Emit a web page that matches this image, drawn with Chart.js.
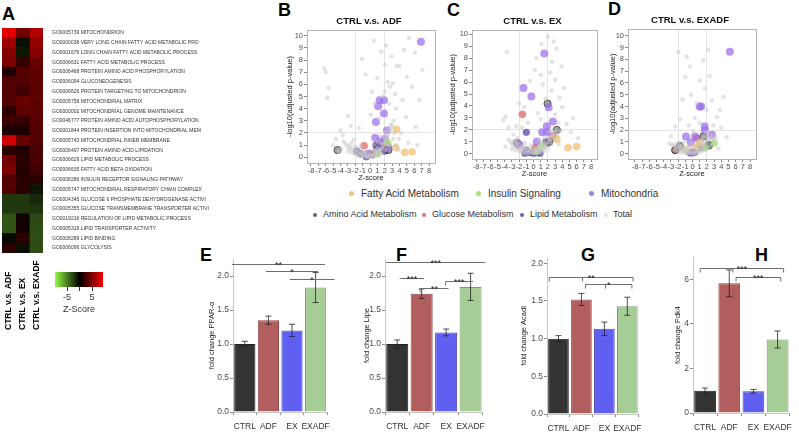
<!DOCTYPE html>
<html>
<head>
<meta charset="utf-8">
<script src="https://cdn.jsdelivr.net/npm/chart.js@4.4.0/dist/chart.umd.min.js"></script>
<style>
body{margin:0;background:#fff;width:799px;height:434px;position:relative;overflow:hidden;font-family:"Liberation Sans",Arial,sans-serif;}
canvas{position:absolute;}
.lab{position:absolute;font-weight:bold;font-size:18px;color:#000;line-height:1;}
.leg{position:absolute;color:#333;white-space:nowrap;line-height:1;}
.dot{position:absolute;border-radius:50%;}
</style>
</head>
<body>
<div class="lab" style="left:2px;top:5px">A</div>
<div class="lab" style="left:278px;top:1px">B</div>
<div class="lab" style="left:447px;top:1px">C</div>
<div class="lab" style="left:608px;top:0px">D</div>
<div class="lab" style="left:200px;top:246px">E</div>
<div class="lab" style="left:396px;top:246px">F</div>
<div class="lab" style="left:581px;top:246px">G</div>
<div class="lab" style="left:755px;top:246px">H</div>

<div class="dot" style="left:349px;top:191px;width:5px;height:5px;background:#f2c27a"></div>
<div class="leg" style="left:361px;top:189px;font-size:10px">Fatty Acid Metabolism</div>
<div class="dot" style="left:476px;top:191px;width:5px;height:5px;background:#a8e27c"></div>
<div class="leg" style="left:488px;top:189px;font-size:10px">Insulin Signaling</div>
<div class="dot" style="left:589px;top:191px;width:5px;height:5px;background:#a07ee6"></div>
<div class="leg" style="left:601px;top:189px;font-size:10px">Mitochondria</div>
<div class="dot" style="left:313px;top:213px;width:4px;height:4px;background:#666"></div>
<div class="leg" style="left:323px;top:210px;font-size:9px">Amino Acid Metabolism</div>
<div class="dot" style="left:422px;top:213px;width:4px;height:4px;background:#e57373"></div>
<div class="leg" style="left:432px;top:210px;font-size:9px">Glucose Metabolism</div>
<div class="dot" style="left:520px;top:213px;width:4px;height:4px;background:#6a5acd"></div>
<div class="leg" style="left:530px;top:210px;font-size:9px">Lipid Metabolism</div>
<div class="dot" style="left:604px;top:213px;width:4px;height:4px;background:#e3e3e3"></div>
<div class="leg" style="left:613px;top:210px;font-size:9px">Total</div>

<script>
// ---------- A: GO term heatmap
const goTerms = [
  "GO0005739 MITOCHONDRION",
  "GO0000038 VERY LONG CHAIN FATTY ACID METABOLIC PRO",
  "GO0001676 LONG CHAIN FATTY ACID METABOLIC PROCESS",
  "GO0006631 FATTY ACID METABOLIC PROCESS",
  "GO0006468 PROTEIN AMINO ACID PHOSPHORYLATION",
  "GO0006094 GLUCONEOGENESIS",
  "GO0006626 PROTEIN TARGETING TO MITOCHONDRION",
  "GO0005759 MITOCHONDRIAL MATRIX",
  "GO0000002 MITOCHONDRIAL GENOME MAINTENANCE",
  "GO0046777 PROTEIN AMINO ACID AUTOPHOSPHORYLATION",
  "GO0001844 PROTEIN INSERTION INTO MITOCHONDRIAL MEM",
  "GO0005743 MITOCHONDRIAL INNER MEMBRANE",
  "GO0006497 PROTEIN AMINO ACID LIPIDATION",
  "GO0006629 LIPID METABOLIC PROCESS",
  "GO0006635 FATTY ACID BETA OXIDATION",
  "GO0008286 INSULIN RECEPTOR SIGNALING PATHWAY",
  "GO0005747 MITOCHONDRIAL RESPIRATORY CHAIN COMPLEX",
  "GO0004345 GLUCOSE 6 PHOSPHATE DEHYDROGENASE ACTIVI",
  "GO0005355 GLUCOSE TRANSMEMBRANE TRANSPORTER ACTIVI",
  "GO0019216 REGULATION OF LIPID METABOLIC PROCESS",
  "GO0005319 LIPID TRANSPORTER ACTIVITY",
  "GO0008289 LIPID BINDING",
  "GO0006096 GLYCOLYSIS"
];
const contrasts = ["CTRL v.s. ADF", "CTRL v.s. EX", "CTRL v.s. EXADF"];
const zADF = [8.8, 6, 5.2, 4.8, 1.2, 3.2, 3.2, 3.2, 1.6, 2.4, 1, 8, 1.6, 4.4, 4.8, 3.2, 3.2, -2.2, -2.2, -3.3, -3.3, -0.4, 1.6];
const zEX = [4.4, -0.6, -0.9, 2, 3.2, 3.2, 2.4, 4, 3.6, 2, 1.2, 4, 1.2, 1.6, 1.4, 1.6, 1.6, -2.2, -2.2, 0.6, 0.6, 1.6, -0.6];
const zEXADF = [6.8, 5.6, 5.2, 4, 3.6, 3.6, 3.6, 3.6, 3.6, 3.4, 3.2, 3.2, 2.8, 2.8, 2.4, 1.6, -0.8, -1.6, -2, -2.8, -3, -3, -3];
const zRange = [-9.8, 9.4];
const zTicks = [-5, 0, 5];

// ---------- B-D: volcano plots, points as [z-score, -log10 p]
const zScoreTicks = [-8, -7, -6, -5, -4, -3, -2, -1, 0, 1, 2, 3, 4, 5, 6, 7, 8];
const pTicks = [0, 1, 2, 3, 4, 5, 6, 7, 8, 9, 10];

const fattyB = [[3.6, 2.3], [3.5, 0.8], [4.7, 0.4], [5.7, 0.45]];
const insulinB = [[2.4, 1.2], [1.0, 0.3]];
const mitoB = [[6.9, 9.5], [1.1, 4.2], [1.3, 4.7], [1.9, 4.7], [1.9, 3.6], [0.8, 2.9], [2.3, 2.2], [0.7, 1.6], [1.3, 1.3], [-0.3, 0.3], [0.9, 0.5], [2.5, 0.8], [2.0, 1.5]];
const aminoB = [[-4.4, 0.6], [1.0, 1.0], [2.5, 0.6]];
const glucoseB = [[-0.8, 0.95], [0.0, 0.3], [2.2, 1.0]];
const lipidB = [[0.8, 1.0], [1.5, 1.1], [-1.3, 0.3], [0.3, 0.2], [-0.5, 0.05], [2.0, 0.5], [-1.8, 0.5], [1.2, 0.9]];
const totalB = [[-6.2, 7.3], [-6.0, 7.0], [-5.6, 5.7], [-5.8, 4.9], [-1.1, 8.1], [0.5, 9.6], [2.2, 9.2], [2.0, 7.6], [2.4, 6.2], [2.0, 5.4], [2.7, 5.8], [3.6, 7.5], [2.9, 8.3], [4.0, 7.5], [5.3, 9.8], [5.7, 5.8], [4.4, 4.7], [3.5, 4.0], [4.9, 3.3], [6.2, 2.5], [6.7, 4.7], [7.1, 7.2], [1.0, 6.5], [0.3, 5.4], [-0.6, 6.8], [1.5, 8.7], [3.1, 6.1], [2.6, 4.4], [3.2, 3.0], [-3.0, 3.4], [-2.6, 2.6], [-4.0, 2.2], [-3.7, 1.8], [-1.5, 2.4], [0.1, 3.5], [1.2, 3.2], [2.8, 2.7], [4.2, 2.0], [3.9, 1.5], [5.2, 1.2], [-5.0, 1.0], [-4.6, 1.5], [6.4, 1.0], [5.0, 6.6], [6.1, 8.6], [4.6, 8.8], [1.7, 5.0], [0.6, 4.4], [3.4, 5.2],
  [-3.6, 1.3], [-3.3, 1.1], [-3.1, 0.9], [-2.8, 0.95], [-2.7, 0.7], [-2.4, 0.75], [-2.2, 0.55], [-2.0, 0.6], [-1.8, 0.4], [-1.6, 0.45], [-1.4, 0.3], [-1.2, 0.35], [-1.0, 0.2], [-0.8, 0.25], [-0.6, 0.1], [-0.4, 0.15], [-0.2, 0.05], [0.0, 0.08], [0.2, 0.1], [0.4, 0.2], [0.6, 0.25], [0.8, 0.35], [1.0, 0.45], [1.2, 0.5], [1.4, 0.7], [1.6, 0.8], [1.8, 1.05], [2.0, 1.2], [2.2, 1.45], [2.4, 1.7], [2.6, 2.05], [2.8, 2.3], [3.0, 2.6],
  [-3.0, 0.5], [-2.5, 0.4], [-2.1, 0.25], [-1.6, 0.15], [-1.1, 0.08], [-0.5, 0.02], [0.5, 0.04], [1.1, 0.12], [1.5, 0.3], [2.1, 0.6], [2.5, 1.0], [3.1, 1.5],
  [-2.5, 1.15], [-2.0, 0.9], [-1.5, 0.7], [-1.0, 0.55], [-0.5, 0.4], [0.0, 0.35], [0.5, 0.55], [1.0, 0.8], [1.5, 1.15], [2.0, 1.6], [2.5, 2.4], [1.0, 1.3], [1.5, 1.7], [2.1, 2.1], [0.5, 1.05], [-1.2, 1.0], [-2.2, 1.45], [3.3, 2.0], [3.5, 1.0], [-3.9, 0.7], [-4.2, 0.45], [3.8, 0.6]];

const fattyC = [[3.25, 1.2], [4.8, 0.5], [6.0, 0.6]];
const insulinC = [[1.2, 0.65], [0.5, 0.2]];
const mitoC = [[1.5, 8.4], [-1.4, 5.5], [-0.3, 4.8], [2.1, 3.9], [2.7, 2.7], [1.85, 2.3], [1.2, 1.8], [1.85, 1.8], [0.45, 1.0], [-2.0, 0.8]];
const aminoC = [[1.95, 4.2], [3.25, 2.0], [-2.3, 0.9], [2.2, 1.0]];
const glucoseC = [[-1.55, 3.3], [2.7, 1.5], [0.2, 0.5], [-2.0, 0.7]];
const lipidC = [[-1.0, 1.8], [1.7, 1.0], [2.0, 0.9], [0.0, 0.05], [-0.5, 0.1], [0.5, 0.1], [-1.0, 0.3], [0.9, 0.05], [-1.2, 0.05]];
const totalC = [[-3.7, 8.5], [-3.9, 3.1], [-4.2, 2.8], [-3.5, 2.2], [-2.8, 1.6], [2.0, 9.8], [1.1, 9.2], [3.2, 8.8], [2.6, 7.7], [3.9, 7.3], [2.3, 6.8], [3.0, 6.2], [1.0, 6.6], [4.2, 5.5], [2.5, 5.3], [3.6, 4.7], [1.3, 5.8], [0.2, 7.0], [-0.5, 6.1], [-2.0, 4.2], [-1.3, 3.9], [0.6, 3.4], [3.0, 3.3], [4.0, 3.9], [4.6, 2.5], [5.2, 1.8], [3.8, 1.9], [-0.8, 2.6], [-2.4, 2.3], [1.0, 2.9], [6.2, 1.3], [5.5, 3.0], [0.4, 8.0], [2.8, 9.4], [1.7, 4.6], [-1.6, 2.2], [3.4, 2.6],
  [-3.5, 1.2], [-3.2, 1.0], [-3.0, 0.8], [-2.8, 1.1], [-2.6, 0.6], [-2.4, 0.8], [-2.2, 0.45], [-2.0, 0.55], [-1.8, 0.35], [-1.6, 0.5], [-1.4, 0.25], [-1.2, 0.4], [-1.0, 0.15], [-0.8, 0.3], [-0.6, 0.08], [-0.4, 0.2], [-0.2, 0.04], [0.0, 0.1], [0.2, 0.06], [0.4, 0.18], [0.6, 0.2], [0.8, 0.3], [1.0, 0.35], [1.2, 0.45], [1.4, 0.55], [1.6, 0.7], [1.8, 0.8], [2.0, 0.95], [2.2, 1.1], [2.4, 1.3], [2.6, 1.5], [2.8, 1.7], [3.0, 1.9],
  [-3.0, 0.4], [-2.5, 0.3], [-2.0, 0.2], [-1.5, 0.1], [-1.0, 0.05], [0.5, 0.04], [1.0, 0.1], [1.5, 0.25], [2.0, 0.5], [2.5, 0.8], [3.0, 1.2],
  [-2.5, 1.0], [-2.0, 0.85], [-1.5, 0.65], [-1.0, 0.5], [-0.5, 0.35], [0.0, 0.3], [0.5, 0.45], [1.0, 0.7], [1.5, 1.0], [2.0, 1.3], [2.5, 1.9], [-1.2, 0.9], [-2.2, 1.3], [3.3, 1.6], [3.5, 0.8], [-3.9, 0.6], [0.8, 1.2], [1.6, 1.4], [-0.4, 0.7]];

const fattyD = [[1.0, 0.9], [-0.8, 0.3], [0.5, 0.6]];
const insulinD = [[3.0, 0.9], [1.8, 0.5]];
const mitoD = [[5.2, 8.65], [1.2, 4.0], [1.0, 4.0], [1.7, 2.3], [1.7, 2.0], [-0.9, 1.45], [0.35, 1.45], [2.7, 1.6], [-0.25, 0.95], [0.0, 0.1]];
const aminoD = [[1.5, 1.45], [-1.75, 0.65], [-2.4, 0.3], [2.3, 0.7]];
const glucoseD = [[0.6, 1.3], [-2.4, 0.3]];
const lipidD = [[0.0, 0.1], [0.3, 0.1], [2.2, 0.8], [1.2, 0.5], [-0.3, 0.05]];
const totalD = [[-2.0, 8.6], [-0.8, 8.2], [-0.35, 7.4], [-1.0, 6.5], [1.5, 7.9], [2.2, 8.8], [1.0, 6.2], [1.7, 5.5], [2.7, 4.5], [4.3, 4.8], [3.8, 3.7], [2.0, 3.7], [3.4, 3.1], [-1.7, 2.9], [-2.4, 2.3], [1.0, 2.6], [0.1, 1.9], [4.75, 1.4], [3.6, 0.45], [-0.2, 5.0], [0.6, 4.3], [2.4, 6.6], [-1.4, 4.6], [0.3, 3.0], [-3.0, 1.5], [2.9, 2.4], [4.0, 2.2], [-0.5, 2.4], [1.9, 1.8],
  [-3.2, 0.9], [-2.9, 0.7], [-2.6, 0.8], [-2.4, 0.55], [-2.2, 0.6], [-2.0, 0.4], [-1.8, 0.5], [-1.6, 0.3], [-1.4, 0.4], [-1.2, 0.2], [-1.0, 0.3], [-0.8, 0.12], [-0.6, 0.2], [-0.4, 0.06], [-0.2, 0.1], [0.0, 0.04], [0.2, 0.08], [0.4, 0.15], [0.6, 0.2], [0.8, 0.3], [1.0, 0.35], [1.2, 0.45], [1.4, 0.6], [1.6, 0.7], [1.8, 0.85], [2.0, 1.0], [2.2, 1.15], [2.4, 1.3], [2.6, 1.5], [2.8, 1.2], [3.0, 1.0],
  [-2.5, 0.3], [-2.0, 0.15], [-1.5, 0.1], [-1.0, 0.05], [0.5, 0.05], [1.0, 0.1], [1.5, 0.25], [2.0, 0.5], [2.5, 0.7],
  [-2.0, 0.9], [-1.5, 0.7], [-1.0, 0.6], [-0.5, 0.5], [0.0, 0.4], [0.5, 0.6], [1.0, 0.8], [1.5, 1.1], [2.0, 1.4], [1.2, 1.2], [0.8, 1.0], [-1.2, 1.0], [3.2, 1.4], [-0.2, 0.8]];

// ---------- E-H: qPCR fold change
const groups = ["CTRL", "ADF", "EX", "EXADF"];
const ppar = [1.0, 1.35, 1.2, 1.83];
const pparErr = [0.04, 0.06, 0.09, 0.22];
const lipe = [1.0, 1.74, 1.17, 1.84];
const lipeErr = [0.06, 0.07, 0.05, 0.2];
const acadl = [1.0, 1.52, 1.13, 1.43];
const acadlErr = [0.04, 0.08, 0.09, 0.12];
const pdk4 = [1.0, 5.82, 0.98, 3.3];
const pdk4Err = [0.12, 0.6, 0.08, 0.38];
const foldTicks = [0, 0.5, 1, 1.5, 2];
const pdk4Ticks = [0, 2, 4, 6];

// significance bars: x1/x2 in group units, y in fold change
const pparSig = [{x1: -0.55, x2: 3.4, y: 2.18, label: "**", ticks: []}, {x1: 0.9, x2: 3.1, y: 2.08, label: "*", ticks: []}, {x1: 1.9, x2: 3.8, y: 1.95, label: "*", ticks: []}];
const lipeSig = [{x1: -0.45, x2: 3.6, y: 2.2, label: "***", ticks: []}, {x1: 0.1, x2: 1.1, y: 1.975, label: "***", ticks: []}, {x1: 0.94, x2: 2.1, y: 1.82, label: "**", ticks: [0.94]}, {x1: 1.98, x2: 3.1, y: 1.93, label: "***", ticks: [1.98]}];
const acadlSig = [{x1: -0.4, x2: 3.25, y: 1.82, label: "**", ticks: [-0.4, 1.05, 3.25]}, {x1: 1.18, x2: 3.2, y: 1.72, label: "*", ticks: [1.18, 2.05, 3.2]}];
const pdk4Sig = [{x1: -0.2, x2: 3.25, y: 6.49, label: "***", ticks: [-0.2, 1.15, 3.25]}, {x1: 1.28, x2: 3.13, y: 6.11, label: "***", ticks: [1.28, 3.13]}];

Chart.defaults.font.family = '"Liberation Sans", Arial, sans-serif';
Chart.defaults.color = "#4d4d4d";
Chart.defaults.animation = false;

function addCanvas(left, top, w, h) {
  const c = document.createElement("canvas");
  c.width = w; c.height = h;
  c.style.left = left + "px"; c.style.top = top + "px";
  c.style.width = w + "px"; c.style.height = h + "px";
  document.body.appendChild(c);
  return c.getContext("2d");
}

function zColor(z) {
  if (z >= 0) return "rgb(" + Math.min(255, Math.round(z * 26)) + ",0,0)";
  const t = Math.min(1, -z / 10);
  return "rgb(" + Math.round(150 * t) + "," + Math.round(255 * t) + "," + Math.round(70 * t) + ")";
}

// heatmap
const colLabels = {
  id: "colLabels",
  afterDraw(chart) {
    const ctx = chart.ctx, x = chart.scales.x, area = chart.chartArea;
    ctx.save();
    ctx.font = 'bold 8.5px "Liberation Sans"';
    ctx.fillStyle = "#000";
    ctx.textAlign = "left";
    ctx.textBaseline = "middle";
    contrasts.forEach((c, i) => {
      ctx.save();
      ctx.translate(x.getPixelForValue(i + 0.5), area.bottom + 77);
      ctx.rotate(-Math.PI / 2);
      ctx.fillText(c, 0, 0);
      ctx.restore();
    });
    ctx.restore();
  }
};

new Chart(addCanvas(0, 20, 235, 320), {
  type: "bar",
  data: {
    labels: goTerms,
    datasets: [zADF, zEX, zEXADF].map((z, i) => ({
      label: contrasts[i],
      data: goTerms.map(() => 1),
      backgroundColor: z.map(zColor),
      borderWidth: 0,
      barPercentage: 1,
      categoryPercentage: 1
    }))
  },
  options: {
    indexAxis: "y",
    responsive: false,
    layout: {padding: {top: 8, left: 2, bottom: 87}},
    plugins: {legend: {display: false}, tooltip: {enabled: false}},
    scales: {
      x: {stacked: true, min: 0, max: 3, display: false},
      y: {
        stacked: true,
        position: "right",
        grid: {display: false},
        border: {display: false},
        ticks: {font: {size: 5}, color: "#333", padding: 1, autoSkip: false},
        afterFit: s => { s.width = 192; }
      }
    }
  },
  plugins: [colLabels]
});

// colour key
new Chart(addCanvas(40, 262, 80, 62), {
  type: "bar",
  data: {
    labels: [""],
    datasets: [{
      data: [zRange],
      backgroundColor: ctx => {
        const a = ctx.chart.chartArea;
        if (!a) return "#000";
        const g = ctx.chart.ctx.createLinearGradient(a.left, 0, a.right, 0);
        g.addColorStop(0, zColor(zRange[0]));
        g.addColorStop(-zRange[0] / (zRange[1] - zRange[0]), "#000");
        g.addColorStop(1, zColor(zRange[1]));
        return g;
      },
      borderWidth: 0,
      barPercentage: 1,
      categoryPercentage: 1
    }]
  },
  options: {
    indexAxis: "y",
    responsive: false,
    layout: {padding: {left: 15, right: 17, top: 10, bottom: 9}},
    plugins: {legend: {display: false}, tooltip: {enabled: false}},
    scales: {
      x: {
        min: zRange[0], max: zRange[1],
        afterBuildTicks: s => { s.ticks = zTicks.map(v => ({value: v})); },
        ticks: {callback: v => (v === 0 ? "" : v), font: {size: 9}, color: "#333", padding: 1, maxRotation: 0},
        grid: {drawOnChartArea: false, tickLength: 4, color: "#333"},
        border: {display: false},
        title: {display: true, text: "Z-Score", font: {size: 9}, color: "#333", padding: 0},
        afterFit: s => { s.height = 28; }
      },
      y: {display: false}
    }
  }
});

// volcano plots: grey frame plus a title centred over the plotting area
function frame(title) {
  return {
    id: "frame",
    beforeDatasetsDraw(chart) {
      const a = chart.chartArea, ctx = chart.ctx;
      ctx.save();
      ctx.strokeStyle = "#b3b3b3";
      ctx.lineWidth = 1;
      ctx.strokeRect(Math.round(a.left) + 0.5, Math.round(a.top) + 0.5, Math.round(a.right - a.left), Math.round(a.bottom - a.top));
      ctx.fillStyle = "#111";
      ctx.font = 'bold 9.5px "Liberation Sans"';
      ctx.textAlign = "center";
      ctx.textBaseline = "middle";
      ctx.fillText(title, (a.left + a.right) / 2 - 2, a.top - 9);
      ctx.restore();
    }
  };
}

function volcano(ctx, title, sets, xr, yr, titlePad) {
  const styles = [
    {label: "Total", bg: "rgba(200,200,200,0.5)", r: 2.2, bc: "rgba(0,0,0,0)", bw: 0},
    {label: "Fatty Acid Metabolism", bg: "rgba(242,190,100,0.7)", r: 3.8, bc: "rgba(0,0,0,0)", bw: 0},
    {label: "Insulin Signaling", bg: "rgba(150,225,100,0.75)", r: 3.8, bc: "rgba(0,0,0,0)", bw: 0},
    {label: "Mitochondria", bg: "rgba(155,110,235,0.72)", r: 4, bc: "rgba(0,0,0,0)", bw: 0},
    {label: "Amino Acid Metabolism", bg: "rgba(90,90,90,0.55)", r: 3.6, bc: "rgba(20,20,20,0.8)", bw: 0.8},
    {label: "Glucose Metabolism", bg: "rgba(225,90,90,0.7)", r: 3.8, bc: "rgba(0,0,0,0)", bw: 0},
    {label: "Lipid Metabolism", bg: "rgba(60,40,160,0.65)", r: 3.6, bc: "rgba(0,0,0,0)", bw: 0}
  ];
  const gridAt = (vals) => c => (vals.includes(c.tick.value) ? "#e3e3e3" : "rgba(0,0,0,0)");
  const topPad = 25 - (yr === null ? 0 : 0);
  new Chart(ctx, {
    type: "scatter",
    data: {
      datasets: sets.map((d, i) => ({
        label: styles[i].label, data: d,
        backgroundColor: styles[i].bg, borderColor: styles[i].bc, borderWidth: styles[i].bw,
        pointRadius: styles[i].r
      }))
    },
    options: {
      responsive: false,
      layout: {padding: {right: 5, top: topPad}},
      plugins: {legend: {display: false}, tooltip: {enabled: false}},
      scales: {
        x: {
          type: "linear", min: xr[0], max: xr[1],
          afterBuildTicks: s => { s.ticks = zScoreTicks.map(v => ({value: v})); },
          ticks: {autoSkip: false, maxRotation: 0, font: {size: 7.5}, color: "#4d4d4d", padding: 0},
          grid: {color: gridAt([-2, 2]), tickColor: "#888", tickLength: 3},
          border: {display: false},
          title: {display: true, text: "Z-score", font: {size: 7.5}, color: "#222", padding: {top: 0, bottom: 8}},
          afterFit: s => { s.height = 27; }
        },
        y: {
          min: yr[0], max: yr[1],
          afterBuildTicks: s => { s.ticks = pTicks.map(v => ({value: v})); },
          ticks: {font: {size: 7.5}, color: "#4d4d4d", padding: 1},
          grid: {color: gridAt([2]), tickColor: "#888", tickLength: 3},
          border: {display: false},
          title: {display: true, text: "-log10(adjusted p-value)", font: {size: 7.5}, color: "#222", padding: {top: titlePad, bottom: 0}},
          afterFit: s => { s.width = 37; }
        }
      }
    },
    plugins: [frame(title)]
  });
}

volcano(addCanvas(270, 5, 170, 185), "CTRL v.s. ADF", [totalB, fattyB, insulinB, mitoB, aminoB, glucoseB, lipidB], [-8.54, 8.81], [-0.47, 10.47], 15);
volcano(addCanvas(435, 5, 167, 181), "CTRL v.s. EX", [totalC, fattyC, insulinC, mitoC, aminoC, glucoseC, lipidC], [-8.56, 8.83], [-0.44, 10.36], 13);
volcano(addCanvas(591, 4, 170, 182), "CTRL v.s. EXADF", [totalD, fattyD, insulinD, mitoD, aminoD, glucoseD, lipidD], [-8.97, 8.83], [-0.45, 10.57], 17);

// bar charts
function errorBars(errs) {
  return {
    id: "errorBars",
    afterDatasetsDraw(chart) {
      const meta = chart.getDatasetMeta(0), y = chart.scales.y, ctx = chart.ctx;
      const vals = chart.data.datasets[0].data;
      ctx.save();
      ctx.strokeStyle = "#222";
      ctx.lineWidth = 0.8;
      errs.forEach((e, i) => {
        const bx = meta.data[i].x, t = y.getPixelForValue(vals[i] + e), b = y.getPixelForValue(vals[i] - e);
        ctx.beginPath();
        ctx.moveTo(bx, t); ctx.lineTo(bx, b);
        ctx.moveTo(bx - 3, t); ctx.lineTo(bx + 3, t);
        ctx.moveTo(bx - 3, b); ctx.lineTo(bx + 3, b);
        ctx.stroke();
      });
      ctx.restore();
    }
  };
}

function sigBars(list) {
  return {
    id: "sigBars",
    afterDraw(chart) {
      const {ctx, scales: {x, y}} = chart;
      ctx.save();
      ctx.strokeStyle = "#6e6e6e";
      ctx.lineWidth = 1;
      ctx.fillStyle = "#222";
      ctx.font = '9px "Liberation Sans"';
      ctx.textAlign = "center";
      ctx.textBaseline = "alphabetic";
      list.forEach(b => {
        const x1 = x.getPixelForValue(b.x1), x2 = x.getPixelForValue(b.x2), py = Math.round(y.getPixelForValue(b.y)) + 0.5;
        ctx.beginPath();
        ctx.moveTo(x1, py); ctx.lineTo(x2, py);
        b.ticks.forEach(t => { const tx = x.getPixelForValue(t); ctx.moveTo(tx, py); ctx.lineTo(tx, py + 4); });
        ctx.stroke();
        ctx.fillText(b.label, (x1 + x2) / 2, py + 3);
      });
      ctx.restore();
    }
  };
}

function foldChart(ctx, vals, errs, sig, yTitle, yMax, ticks, fmt, pad, titlePad) {
  new Chart(ctx, {
    type: "bar",
    data: {
      labels: groups,
      datasets: [{
        data: vals,
        backgroundColor: ["#333333", "#b35e5e", "#5f5ff2", "#a5cd95"],
        borderColor: ["#222", "#8e4848", "#4646b0", "#7d9a72"],
        borderWidth: 1,
        barPercentage: 0.9,
        categoryPercentage: 1
      }]
    },
    options: {
      responsive: false,
      layout: {padding: pad},
      plugins: {legend: {display: false}, tooltip: {enabled: false}},
      scales: {
        x: {
          grid: {drawOnChartArea: false, tickLength: 3, color: "#888"},
          border: {color: "#c8c8c8"},
          ticks: {font: {size: 8.5}, color: "#333", padding: 7, autoSkip: false, maxRotation: 0, minRotation: 0},
          afterFit: s => { s.height = 22; }
        },
        y: {
          min: 0, max: yMax,
          afterBuildTicks: s => { s.ticks = ticks.map(v => ({value: v})); },
          ticks: {callback: fmt, font: {size: 8.5}, color: "#4d4d4d", padding: 1},
          grid: {drawOnChartArea: false, tickLength: 3, color: "#888"},
          border: {color: "#c8c8c8"},
          title: {display: true, text: yTitle, font: {size: 7.5}, color: "#222", padding: {top: titlePad, bottom: 0}},
          afterFit: s => { s.width = 38; }
        }
      }
    },
    plugins: [errorBars(errs), sigBars(sig)]
  });
}

const oneDec = v => v.toFixed(1);
foldChart(addCanvas(195, 250, 142, 184), ppar, pparErr, pparSig, "fold change PPAR-\u03b1", 2.25, foldTicks, oneDec, {top: 9, right: 2}, 12);
foldChart(addCanvas(347, 250, 145, 184), lipe, lipeErr, lipeSig, "fold change Lipe", 2.25, foldTicks, oneDec, {top: 9, right: 2}, 15);
foldChart(addCanvas(509, 250, 140, 186), acadl, acadlErr, acadlSig, "fold change Acadl", 2.07, foldTicks, oneDec, {top: 8, right: 4}, 10);
foldChart(addCanvas(655, 250, 144, 185), pdk4, pdk4Err, pdk4Sig, "fold change Pdk4", 7, pdk4Ticks, v => v, {top: 7, right: 2}, 18);
</script>
</body>
</html>
